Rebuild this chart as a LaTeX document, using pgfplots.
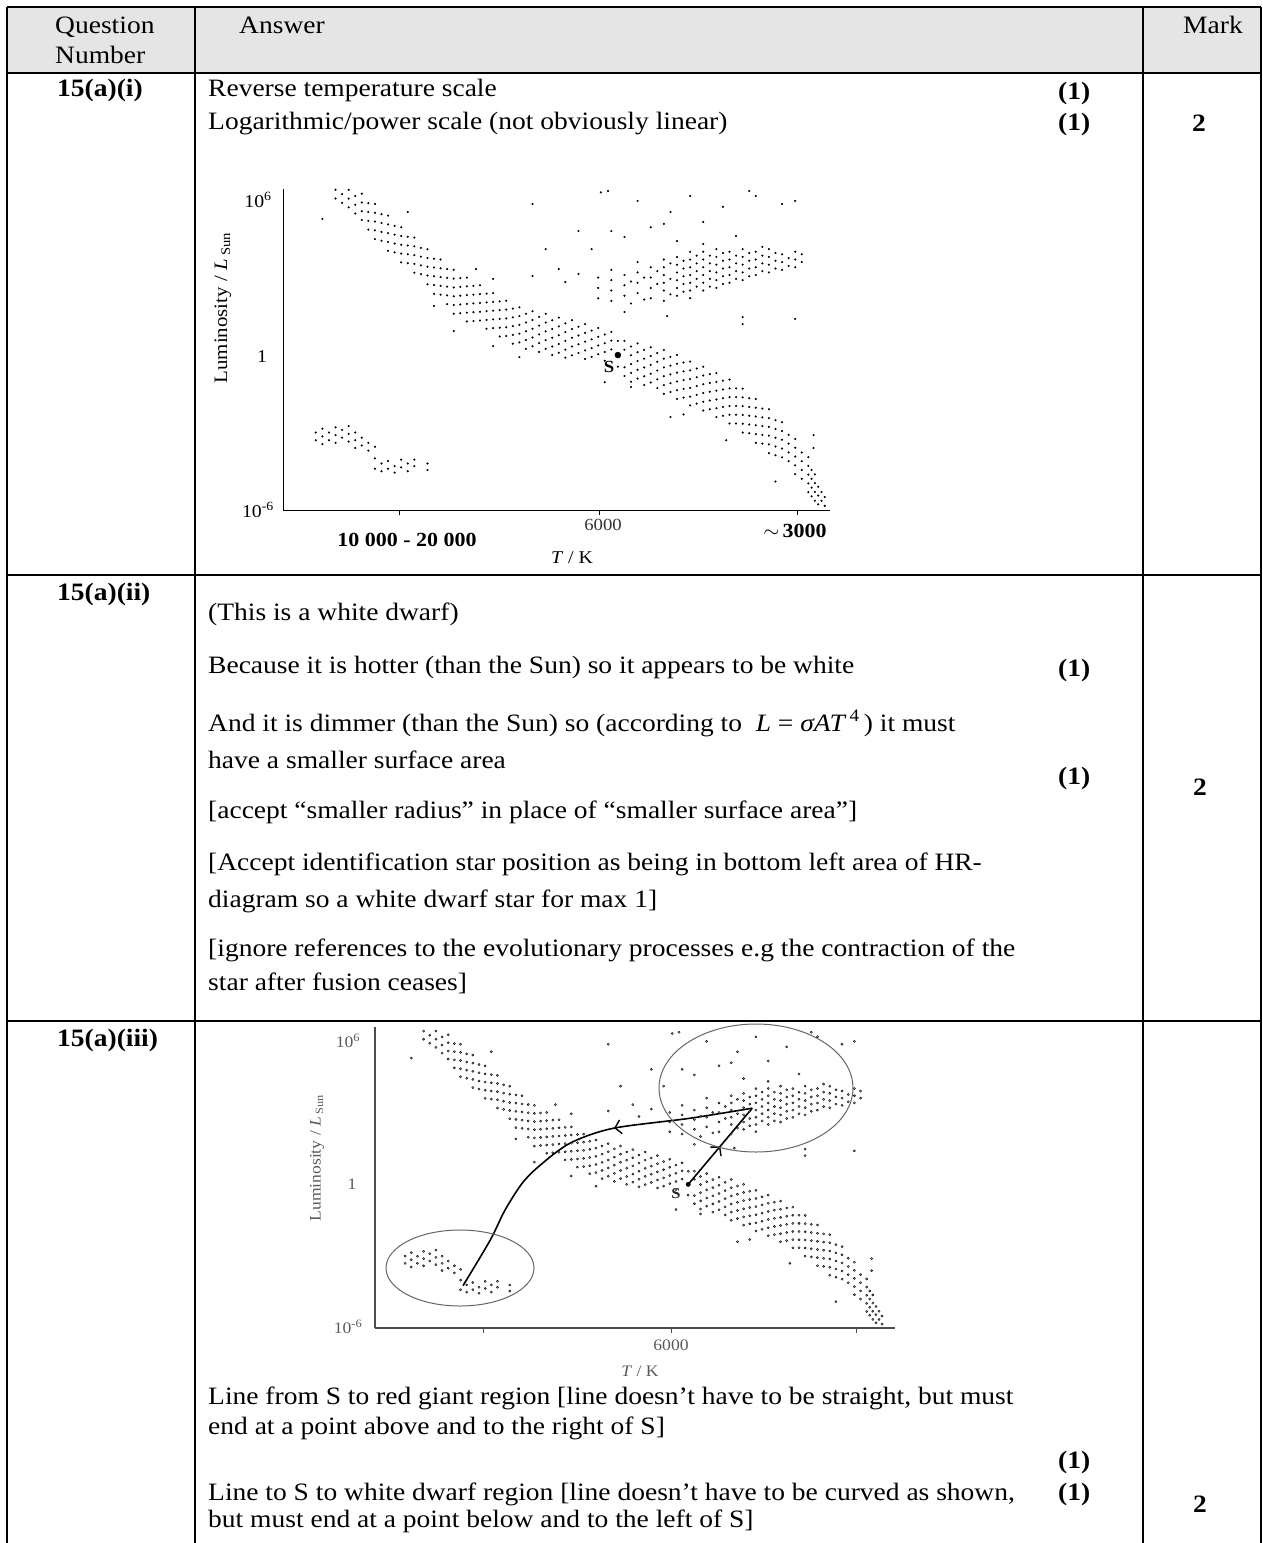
\documentclass[border=0pt]{standalone}
\usepackage{fontspec}
\setmainfont{Liberation Serif}[FakeStretch=1.1]
\usepackage{pgfplots}
\pgfplotsset{compat=1.18}
\usepackage{pgfplotstable}
\usetikzlibrary{decorations.markings,arrows.meta}

% main sequence (log10 T, log10 L/Lsun)
\pgfplotstableread[row sep=\\]{t l\\
4.18 6.40\\4.18 6.06\\4.17 6.23\\4.17 5.89\\4.16 6.40\\4.16 6.06\\4.16 5.72\\
4.15 6.16\\4.15 5.82\\4.15 5.48\\4.14 6.25\\4.14 5.91\\4.14 5.57\\4.14 5.23\\
4.13 5.88\\4.13 5.54\\4.13 5.20\\4.13 4.86\\4.12 5.85\\4.12 5.51\\4.12 5.17\\4.12 4.83\\4.12 4.49\\
4.11 5.45\\4.11 5.11\\4.11 4.77\\4.11 4.43\\4.10 5.40\\4.10 5.06\\4.10 4.72\\4.10 4.38\\4.10 4.04\\
4.09 5.00\\4.09 4.66\\4.09 4.32\\4.09 3.98\\4.08 4.95\\4.08 4.61\\4.08 4.27\\4.08 3.93\\4.08 3.59\\
4.07 4.58\\4.07 4.24\\4.07 3.90\\4.07 3.56\\4.06 4.55\\4.06 4.21\\4.06 3.87\\4.06 3.53\\4.06 3.19\\
4.05 4.15\\4.05 3.81\\4.05 3.47\\4.05 3.13\\4.04 4.10\\4.04 3.76\\4.04 3.42\\4.04 3.08\\4.04 2.74\\
4.03 3.73\\4.03 3.39\\4.03 3.05\\4.03 2.71\\4.03 2.37\\4.02 3.70\\4.02 3.36\\4.02 3.02\\4.02 2.68\\4.02 2.34\\
4.01 3.33\\4.01 2.99\\4.01 2.65\\4.01 2.31\\4.01 1.97\\4.00 3.30\\4.00 2.96\\4.00 2.62\\4.00 2.28\\4.00 1.94\\4.00 1.60\\
3.99 2.98\\3.99 2.64\\3.99 2.30\\3.99 1.96\\3.99 1.62\\3.98 3.00\\3.98 2.66\\3.98 2.32\\3.98 1.98\\3.98 1.64\\3.98 1.30\\
3.97 2.68\\3.97 2.34\\3.97 2.00\\3.97 1.66\\3.97 1.32\\3.96 2.70\\3.96 2.36\\3.96 2.02\\3.96 1.68\\3.96 1.34\\
3.95 2.38\\3.95 2.04\\3.95 1.70\\3.95 1.36\\3.95 1.02\\3.94 2.40\\3.94 2.06\\3.94 1.72\\3.94 1.38\\3.94 1.04\\
3.93 2.08\\3.93 1.74\\3.93 1.40\\3.93 1.06\\3.93 0.72\\3.92 2.10\\3.92 1.76\\3.92 1.42\\3.92 1.08\\3.92 0.74\\
3.91 1.80\\3.91 1.46\\3.91 1.12\\3.91 0.78\\3.91 0.44\\3.90 1.85\\3.90 1.51\\3.90 1.17\\3.90 0.83\\3.90 0.49\\
3.89 1.60\\3.89 1.26\\3.89 0.92\\3.89 0.58\\3.89 0.24\\3.88 1.70\\3.88 1.36\\3.88 1.02\\3.88 0.68\\3.88 0.34\\
3.87 1.48\\3.87 1.14\\3.87 0.80\\3.87 0.46\\3.87 0.12\\3.86 1.60\\3.86 1.26\\3.86 0.92\\3.86 0.58\\3.86 0.24\\
3.85 1.35\\3.85 1.01\\3.85 0.67\\3.85 0.33\\3.85 0.00\\3.84 1.45\\3.84 1.11\\3.84 0.77\\3.84 0.43\\3.84 0.09\\
3.83 1.23\\3.83 0.89\\3.83 0.55\\3.83 0.21\\3.83 -0.10\\3.82 1.35\\3.82 1.01\\3.82 0.67\\3.82 0.33\\3.82 -0.01\\
3.81 1.10\\3.81 0.76\\3.81 0.42\\3.81 0.08\\3.80 1.20\\3.80 0.86\\3.80 0.52\\3.80 0.18\\3.80 -0.15\\
3.79 0.95\\3.79 0.61\\3.79 0.27\\3.79 -0.07\\3.78 1.05\\3.78 0.71\\3.78 0.37\\3.78 0.03\\
3.77 0.80\\3.77 0.46\\3.77 0.12\\3.77 -0.22\\3.76 0.90\\3.76 0.56\\3.76 0.22\\3.75 0.55\\3.75 -0.45\\
3.74 0.55\\3.74 0.21\\3.74 -0.47\\3.74 -0.81\\3.73 0.33\\3.73 -0.01\\3.73 -0.35\\3.73 -0.69\\3.73 -1.03\\
3.72 0.45\\3.72 0.11\\3.72 -0.23\\3.72 -0.57\\3.72 -0.91\\3.71 0.20\\3.71 -0.14\\3.71 -0.48\\3.71 -0.82\\3.71 -1.16\\
3.70 0.30\\3.70 -0.04\\3.70 -0.38\\3.70 -0.72\\3.70 -1.06\\3.69 0.08\\3.69 -0.26\\3.69 -0.60\\3.69 -0.94\\3.69 -1.28\\
3.68 0.20\\3.68 -0.14\\3.68 -0.48\\3.68 -0.82\\3.68 -1.16\\3.68 -1.50\\3.67 -0.07\\3.67 -0.41\\3.67 -0.75\\3.67 -1.09\\3.67 -1.43\\
3.66 0.00\\3.66 -0.34\\3.66 -0.68\\3.66 -1.02\\3.66 -1.36\\3.66 -1.70\\3.65 -0.29\\3.65 -0.63\\3.65 -0.97\\3.65 -1.31\\3.65 -1.65\\
3.64 -0.25\\3.64 -0.59\\3.64 -0.93\\3.64 -1.27\\3.64 -1.61\\3.64 -1.95\\3.63 -0.52\\3.63 -0.86\\3.63 -1.20\\3.63 -1.54\\3.63 -1.88\\
3.62 -0.45\\3.62 -0.79\\3.62 -1.13\\3.62 -1.47\\3.62 -1.81\\3.62 -2.15\\3.61 -0.74\\3.61 -1.08\\3.61 -1.42\\3.61 -1.76\\3.61 -2.10\\
3.60 -0.70\\3.60 -1.04\\3.60 -1.38\\3.60 -1.72\\3.60 -2.06\\3.60 -2.40\\3.59 -0.99\\3.59 -1.33\\3.59 -1.67\\3.59 -2.01\\3.59 -2.35\\
3.58 -0.95\\3.58 -1.29\\3.58 -1.63\\3.58 -1.97\\3.58 -2.31\\3.58 -2.65\\3.57 -1.29\\3.57 -1.63\\3.57 -1.97\\3.57 -2.31\\3.57 -2.65\\
3.56 -1.30\\3.56 -1.64\\3.56 -1.98\\3.56 -2.32\\3.56 -2.66\\3.56 -3.00\\3.55 -1.67\\3.55 -2.01\\3.55 -2.35\\3.55 -2.69\\3.55 -3.03\\
3.54 -1.70\\3.54 -2.04\\3.54 -2.38\\3.54 -2.72\\3.54 -3.06\\3.54 -3.40\\3.53 -2.07\\3.53 -2.41\\3.53 -2.75\\3.53 -3.09\\3.53 -3.43\\
3.52 -2.10\\3.52 -2.44\\3.52 -2.78\\3.52 -3.12\\3.52 -3.46\\3.52 -3.80\\3.51 -2.52\\3.51 -2.86\\3.51 -3.20\\3.51 -3.54\\3.51 -3.88\\
3.50 -2.60\\3.50 -2.94\\3.50 -3.28\\3.50 -3.62\\3.50 -3.96\\3.49 -3.09\\3.49 -3.43\\3.49 -3.77\\3.49 -4.11\\
3.48 -3.25\\3.48 -3.59\\3.48 -3.93\\3.48 -4.27\\3.48 -4.61\\3.47 -3.77\\3.47 -4.11\\3.47 -4.45\\3.47 -4.79\\
3.46 -3.95\\3.46 -4.29\\3.46 -4.63\\3.46 -4.97\\3.46 -5.31\\3.455 -4.45\\3.455 -4.79\\3.455 -5.13\\3.455 -5.47\\
3.45 -4.62\\3.45 -4.96\\3.45 -5.30\\3.45 -5.64\\3.445 -5.10\\3.445 -5.44\\3.445 -5.78\\
3.44 -5.30\\3.44 -5.64\\3.435 -5.50\\3.435 -5.84\\
}\mstab

% red giants
\pgfplotstableread[row sep=\\]{t l\\
3.78 2.20\\3.78 2.60\\3.78 3.00\\3.76 2.10\\3.76 2.50\\3.76 2.90\\3.76 3.30\\
3.74 2.30\\3.74 2.70\\3.74 3.10\\3.73 2.00\\3.73 2.85\\3.72 2.40\\3.72 2.80\\3.72 3.20\\3.72 3.60\\
3.71 2.15\\3.71 3.00\\3.70 2.20\\3.70 2.60\\3.70 3.00\\3.70 3.40\\3.69 2.75\\3.69 3.25\\
3.68 2.10\\3.68 2.50\\3.68 2.80\\3.68 3.10\\3.68 3.40\\3.68 3.70\\3.67 2.35\\3.67 2.95\\3.67 3.55\\
3.66 2.30\\3.66 2.60\\3.66 2.90\\3.66 3.20\\3.66 3.50\\3.66 3.80\\3.65 2.45\\3.65 2.75\\3.65 3.05\\3.65 3.35\\3.65 3.65\\
3.64 2.20\\3.64 2.50\\3.64 2.80\\3.64 3.10\\3.64 3.40\\3.64 3.70\\3.64 4.00\\3.63 2.65\\3.63 2.95\\3.63 3.25\\3.63 3.55\\3.63 3.85\\
3.62 2.50\\3.62 2.80\\3.62 3.10\\3.62 3.40\\3.62 3.70\\3.62 4.00\\3.61 2.65\\3.61 2.95\\3.61 3.25\\3.61 3.55\\3.61 3.85\\
3.60 2.60\\3.60 2.90\\3.60 3.20\\3.60 3.50\\3.60 3.80\\3.60 4.10\\3.59 2.75\\3.59 3.05\\3.59 3.35\\3.59 3.65\\3.59 3.95\\
3.58 2.80\\3.58 3.10\\3.58 3.40\\3.58 3.70\\3.58 4.00\\3.57 2.95\\3.57 3.25\\3.57 3.55\\3.57 3.85\\
3.56 2.90\\3.56 3.20\\3.56 3.50\\3.56 3.80\\3.56 4.10\\3.55 3.05\\3.55 3.35\\3.55 3.65\\3.55 3.95\\
3.54 3.10\\3.54 3.40\\3.54 3.70\\3.54 4.00\\3.53 3.25\\3.53 3.55\\3.53 3.85\\
3.52 3.20\\3.52 3.50\\3.52 3.80\\3.52 4.10\\3.51 3.35\\3.51 3.65\\3.51 3.95\\
3.50 3.30\\3.50 3.60\\3.50 3.90\\3.49 3.45\\3.49 3.75\\3.48 3.40\\3.48 3.70\\3.48 4.00\\3.47 3.60\\3.47 3.90\\
}\rgtab

% scattered stars (supergiants and outliers)
\pgfplotstableread[row sep=\\]{t l\\
4.20 5.27\\4.07 5.54\\3.88 5.85\\3.81 4.80\\3.776 6.30\\3.765 6.35\\3.76 4.80\\3.74 4.57\\3.72 5.97\\
3.67 5.54\\3.66 4.42\\3.64 6.16\\3.62 5.15\\3.59 5.74\\3.57 4.61\\3.55 6.35\\3.54 6.16\\3.50 5.85\\
3.48 5.97\\3.53 4.19\\3.68 5.08\\3.70 4.95\\3.62 4.30\\3.86 4.10\\3.966 3.33\\3.94 2.95\\3.88 3.06\\
3.84 3.33\\3.83 2.83\\3.81 3.14\\3.79 4.10\\3.74 1.67\\3.675 1.51\\3.56 1.47\\3.56 1.20\\3.48 1.40\\
4.03 1.90\\4.00 0.93\\3.94 0.35\\3.90 -0.08\\3.77 -1.05\\3.73 -1.24\\3.67 -2.40\\3.65 -2.30\\
3.585 -3.30\\3.51 -4.90\\3.452 -3.10\\3.452 -3.60\\
}\sctab

% white dwarfs
\pgfplotstableread[row sep=\\]{t l\\
4.21 -3.00\\4.21 -3.30\\4.20 -2.85\\4.20 -3.15\\4.20 -3.45\\4.19 -3.00\\4.19 -3.30\\
4.18 -2.80\\4.18 -3.10\\4.18 -3.40\\4.17 -2.90\\4.17 -3.20\\4.16 -2.75\\4.16 -3.05\\4.16 -3.35\\
4.15 -3.00\\4.15 -3.30\\4.15 -3.60\\4.14 -3.20\\4.14 -3.50\\4.13 -3.40\\4.13 -3.70\\
4.12 -3.55\\4.12 -4.00\\4.12 -4.40\\4.11 -4.20\\4.11 -4.50\\4.10 -4.10\\4.10 -4.40\\
4.09 -4.30\\4.09 -4.55\\4.08 -4.05\\4.08 -4.35\\4.07 -4.20\\4.07 -4.50\\4.06 -4.05\\4.06 -4.30\\
4.04 -4.20\\4.04 -4.45\\
}\wdtab

\newcommand\tx{\fontsize{25}{30}\selectfont}
\tikzset{t/.style={anchor=base west, inner sep=0pt, font=\tx},
  arrmid/.style={postaction={decorate}, decoration={markings,
    mark=at position #1 with {\arrow{Straight Barb[length=6pt,width=14pt,line width=1.4pt]}}}}}

\begin{document}
\begin{tikzpicture}
\begin{scope}[x=1pt,y=-1pt]
\useasboundingbox (0,0) rectangle (1263,1543);
\fill[black!10] (7,7) rectangle (1261,73);
\begin{scope}[line width=2.5pt]
\draw (7,7) -- (1261,7);
\draw (7,7) -- (7,1543);
\draw (195,7) -- (195,1543);
\draw (1143,7) -- (1143,1543);
\draw (1261,7) -- (1261,1543);
\draw (7,73) -- (1261,73);
\draw (7,575) -- (1261,575);
\draw (7,1021) -- (300,1021);
\draw (891,1021) -- (1261,1021);
\end{scope}
\draw[line width=1.2pt] (300,1021) -- (891,1021);

% header
\node[t] at (55,33) {Question};
\node[t] at (55,63) {Number};
\node[t] at (239,33) {Answer};
\node[t] at (1183,33) {Mark};
% row 1
\node[t] at (57,96) {\bfseries 15(a)(i)};
\node[t] at (208,96) {Reverse temperature scale};
\node[t] at (1058,99) {\bfseries (1)};
\node[t] at (208,129) {Logarithmic/power scale (not obviously linear)};
\node[t] at (1058,130) {\bfseries (1)};
\node[t] at (1192,131) {\bfseries 2};
% row 2
\node[t] at (57,600) {\bfseries 15(a)(ii)};
\node[t] at (208,620) {(This is a white dwarf)};
\node[t] at (208,673) {Because it is hotter (than the Sun) so it appears to be white};
\node[t] at (1058,676) {\bfseries (1)};
\node[t] at (208,731) {And it is dimmer (than the Sun) so (according to\ \ \textit{L} = \textit{σAT}\textsuperscript{\,4}\,) it must};
\node[t] at (208,768) {have a smaller surface area};
\node[t] at (1058,784) {\bfseries (1)};
\node[t] at (1193,795) {\bfseries 2};
\node[t] at (208,818) {[accept “smaller radius” in place of “smaller surface area”]};
\node[t] at (208,870) {[Accept identification star position as being in bottom left area of HR-};
\node[t] at (208,907) {diagram so a white dwarf star for max 1]};
\node[t] at (208,956) {[ignore references to the evolutionary processes e.g the contraction of the};
\node[t] at (208,990) {star after fusion ceases]};
% row 3
\node[t] at (57,1046) {\bfseries 15(a)(iii)};
\node[t] at (208,1404) {Line from S to red giant region [line doesn’t have to be straight, but must};
\node[t] at (208,1434) {end at a point above and to the right of S]};
\node[t] at (1058,1468) {\bfseries (1)};
\node[t] at (208,1500) {Line to S to white dwarf region [line doesn’t have to be curved as shown,};
\node[t] at (1058,1500) {\bfseries (1)};
\node[t] at (208,1527) {but must end at a point below and to the left of S]};
\node[t] at (1193,1512) {\bfseries 2};
\end{scope}

% ---------- chart 1 ----------
\begin{axis}[at={(283pt,-510pt)}, anchor=south west,
  scale only axis, width=547pt, height=321pt,
  xmin=3.427, xmax=4.26, x dir=reverse, ymin=-6, ymax=6.43,
  axis x line*=bottom, axis y line*=left,
  axis line style={line width=0.9pt,-},
  xtick={3.477,3.778,4.083}, xticklabels={}, ytick=\empty,
  tick align=outside, major tick length=5pt,
  tick style={line width=0.9pt,black}, clip=false]
\addplot[only marks, mark=*, mark size=0.85pt, black] table[x=t,y=l]{\mstab};
\addplot[only marks, mark=*, mark size=0.85pt, black] table[x=t,y=l]{\rgtab};
\addplot[only marks, mark=*, mark size=0.85pt, black] table[x=t,y=l]{\sctab};
\addplot[only marks, mark=*, mark size=0.85pt, black] table[x=t,y=l]{\wdtab};
\addplot[only marks, mark=*, mark size=3pt, black] coordinates {(3.75,0)};
\end{axis}

% ---------- chart 2 ----------
\begin{axis}[at={(375pt,-1328pt)}, anchor=south west,
  scale only axis, width=520pt, height=301pt,
  xmin=3.414, xmax=4.259, x dir=reverse, ymin=-6, ymax=6.57,
  axis x line*=bottom, axis y line*=left,
  axis line style={line width=1.3pt,black!70,-},
  xtick={3.477,3.778,4.083}, xticklabels={}, ytick=\empty,
  tick align=outside, major tick length=5pt,
  tick style={line width=1pt,black!70}, clip=false]
\addplot[only marks, mark=*, mark size=1.1pt, draw=none, fill=black!30] table[x=t,y=l]{\mstab};
\addplot[only marks, mark=*, mark size=1.1pt, draw=none, fill=black!30] table[x=t,y=l]{\rgtab};
\addplot[only marks, mark=*, mark size=1.1pt, draw=none, fill=black!30] table[x=t,y=l]{\sctab};
\addplot[only marks, mark=*, mark size=1.1pt, draw=none, fill=black!30] table[x=t,y=l]{\wdtab};
\addplot[line width=1.6pt, black, arrmid=0.5] coordinates {(3.75,0) (3.646,3.18)};
\addplot[line width=1.6pt, black, smooth, tension=0.5, arrmid=0.38] coordinates {
  (3.646,3.18) (3.747,2.76) (3.872,2.34) (3.942,1.72) (3.991,0.79) (4.020,0.04) (4.048,-1.09) (4.072,-2.34) (4.116,-4.23)};
\addplot[only marks, mark=*, mark size=2.2pt, black] coordinates {(3.75,0)};
\end{axis}

\begin{scope}[x=1pt,y=-1pt]
% chart 1 labels
\node[font=\fontsize{18}{18}\selectfont] at (258,200) {10\textsuperscript{6}};
\node[font=\fontsize{18}{18}\selectfont] at (262,357) {1};
\node[font=\fontsize{18}{18}\selectfont] at (258,510) {10\textsuperscript{-6}};
\node[font=\bfseries\fontsize{20}{20}\selectfont] at (407,540) {10 000 - 20 000};
\node[font=\fontsize{17}{17}\selectfont, text=black!80] at (603,525) {6000};
\node[font=\bfseries\fontsize{20}{20}\selectfont] at (795,531) {$\sim$\,3000};
\node[font=\fontsize{18}{18}\selectfont] at (572,558) {\textit{T} / K};
\node[rotate=90, font=\fontsize{19}{19}\selectfont] at (223,308) {Luminosity / \textit{L}\,\textsubscript{Sun}};
\node[font=\bfseries\fontsize{17}{17}\selectfont] at (609,367) {S};
% chart 2 labels
\node[font=\fontsize{16}{16}\selectfont, text=black!65] at (348,1041) {10\textsuperscript{6}};
\node[font=\fontsize{16}{16}\selectfont, text=black!65] at (352,1184) {1};
\node[font=\fontsize{16}{16}\selectfont, text=black!65] at (348,1327) {10\textsuperscript{-6}};
\node[font=\fontsize{16}{16}\selectfont, text=black!65] at (671,1345) {6000};
\node[font=\fontsize{16}{16}\selectfont, text=black!65] at (640,1371) {\textit{T} / K};
\node[rotate=90, font=\fontsize{16}{16}\selectfont, text=black!65] at (317,1158) {Luminosity / \textit{L}\,\textsubscript{Sun}};
\node[font=\bfseries\fontsize{15}{15}\selectfont, text=black!85] at (676,1194) {S};
\draw[black!60, line width=1pt] (756,1088) ellipse [x radius=97pt, y radius=64pt];
\draw[black!60, line width=1pt] (460,1268) ellipse [x radius=74pt, y radius=38pt];
\end{scope}
\end{tikzpicture}
\end{document}
